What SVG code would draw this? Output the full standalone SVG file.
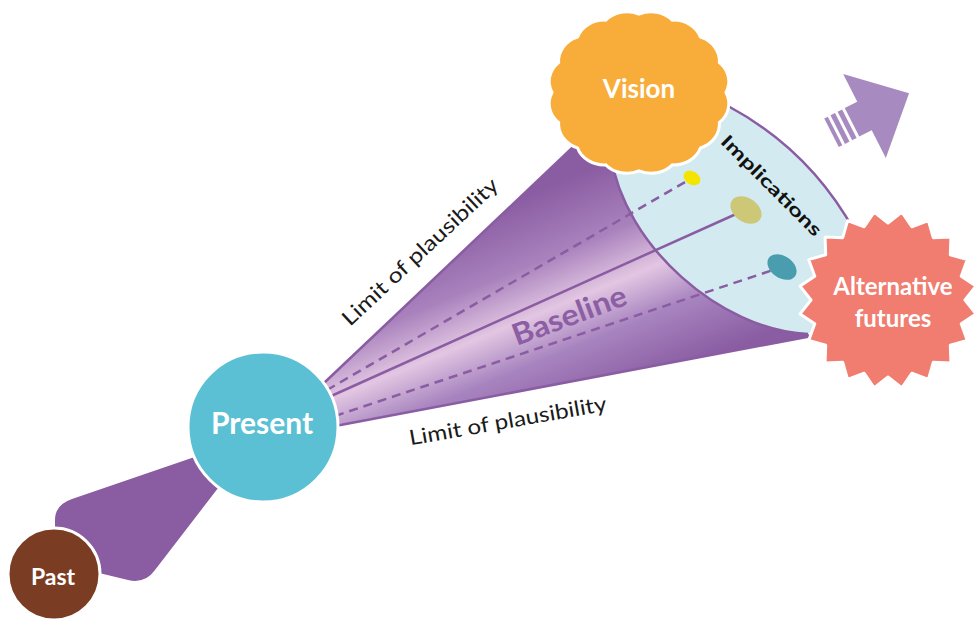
<svg xmlns="http://www.w3.org/2000/svg" width="979" height="619" viewBox="0 0 979 619">
<style>
.lbl{font-family:Lato,"Open Sans","Liberation Sans",sans-serif;font-weight:700;fill:#fff;text-anchor:middle}
.lim{font-family:Lato,"Open Sans","Liberation Sans",sans-serif;font-weight:400;fill:#1a1a1a;font-size:21px;text-anchor:middle}
.edge{fill:none;stroke:#8a5ca2;stroke-width:2.5}
.dash{fill:none;stroke:#8a5ca2;stroke-width:2.5;stroke-dasharray:9 6}
.node{stroke:#fff;stroke-width:3}
</style>
<defs>
<linearGradient id="coneGrad" gradientUnits="userSpaceOnUse" x1="458" y1="223" x2="542" y2="427">
<stop offset="0" stop-color="#8a5ca2"/>
<stop offset="0.3" stop-color="#a982bd"/>
<stop offset="0.52" stop-color="#e2c6e2"/>
<stop offset="0.72" stop-color="#a784bf"/>
<stop offset="1" stop-color="#8a5ca2"/>
</linearGradient>
</defs>

<g id="past-present-link">
<path d="M215,450 L72,499 Q55,505 55,520 L55,535 L95,572 L128,580 Q145,584 155,570 L235,466 Z" fill="#8a5ca2"/>
</g>

<g id="cone">
<path d="M305,401 L590,131 L611,156 C624,245 720,330 808,334 L812,336 L330,427 Z" fill="url(#coneGrad)"/>
<path d="M611,156 C624,245 720,330 808,334 L850,300 L855,232 Q810,150 728,106 L690,110 Z" fill="#d2eaf0"/>
</g>

<g id="connectors">
<path class="dash" d="M327,390 L692,178"/>
<path class="edge" d="M300,410 L745,210"/>
<path class="dash" d="M335,416 L782,267"/>
<path class="edge" d="M611,156 C624,245 720,330 808,334" stroke-width="2"/>
<path class="edge" d="M716,100 L728,106 Q810,150 855,232"/>
<path class="edge" d="M305,401 L590,131"/>
<path class="edge" d="M330,427 L812,336" stroke-width="3"/>
</g>

<g id="dots">
<ellipse cx="692" cy="178" rx="9" ry="6.5" transform="rotate(30 692 178)" fill="#f5e400"/>
<ellipse cx="746" cy="210" rx="17" ry="12" transform="rotate(35 746 210)" fill="#cdc878"/>
<ellipse cx="782" cy="267" rx="16" ry="11" transform="rotate(35 782 267)" fill="#4a9dae"/>
</g>

<g id="arrow" transform="translate(864.5,116) rotate(-27)" fill="#a68ac0">
<polygon points="0,-47 50,0 0,47"/>
<rect x="-14" y="-16" width="15" height="32"/>
<rect x="-22" y="-16" width="5" height="32"/>
<rect x="-30" y="-16" width="5" height="32"/>
<rect x="-37" y="-16" width="4" height="32"/>
</g>

<g id="vision">
<path class="node" vector-effect="non-scaling-stroke" transform="translate(639,92.5) scale(1,0.9)" fill="#f8ad3a" d="M87,0 A28.2,28.2 0 0 1 80.38,33.29 A28.2,28.2 0 0 1 61.52,61.52 A28.2,28.2 0 0 1 33.29,80.38 A28.2,28.2 0 0 1 0,87 A28.2,28.2 0 0 1 -33.29,80.38 A28.2,28.2 0 0 1 -61.52,61.52 A28.2,28.2 0 0 1 -80.38,33.29 A28.2,28.2 0 0 1 -87,0 A28.2,28.2 0 0 1 -80.38,-33.29 A28.2,28.2 0 0 1 -61.52,-61.52 A28.2,28.2 0 0 1 -33.29,-80.38 A28.2,28.2 0 0 1 0,-87 A28.2,28.2 0 0 1 33.29,-80.38 A28.2,28.2 0 0 1 61.52,-61.52 A28.2,28.2 0 0 1 80.38,-33.29 A28.2,28.2 0 0 1 87,0 Z"/>
<text class="lbl" x="639" y="98" font-size="26">Vision</text>
</g>

<g id="alternative-futures">
<path class="node" stroke-linejoin="round" fill="#f07d70" transform="translate(888,300)" d="M77,0 L87.9,13.92 L73.23,23.79 L79.3,40.41 L62.29,45.26 L62.93,62.93 L45.26,62.29 L40.41,79.3 L23.79,73.23 L13.92,87.9 L0,77 L-13.92,87.9 L-23.79,73.23 L-40.41,79.3 L-45.26,62.29 L-62.93,62.93 L-62.29,45.26 L-79.3,40.41 L-73.23,23.79 L-87.9,13.92 L-77,0 L-87.9,-13.92 L-73.23,-23.79 L-79.3,-40.41 L-62.29,-45.26 L-62.93,-62.93 L-45.26,-62.29 L-40.41,-79.3 L-23.79,-73.23 L-13.92,-87.9 L0,-77 L13.92,-87.9 L23.79,-73.23 L40.41,-79.3 L45.26,-62.29 L62.93,-62.93 L62.29,-45.26 L79.3,-40.41 L73.23,-23.79 L87.9,-13.92 Z"/>
<text class="lbl" x="893" y="295" font-size="24">Alternative</text>
<text class="lbl" x="893" y="327" font-size="24">futures</text>
</g>

<g id="present">
<circle class="node" cx="263" cy="427" r="75" fill="#5bc0d4"/>
<text class="lbl" x="262" y="434" font-size="30">Present</text>
</g>

<g id="past">
<circle class="node" cx="54" cy="574" r="46" fill="#7a3d23"/>
<text class="lbl" x="53" y="585" font-size="23">Past</text>
</g>

<g id="labels">
<text class="lim" x="425" y="257" transform="rotate(-43 425 257)" textLength="205" lengthAdjust="spacingAndGlyphs">Limit of plausibility</text>
<text class="lim" x="509" y="428" transform="rotate(-10 509 428)" textLength="200" lengthAdjust="spacingAndGlyphs">Limit of plausibility</text>
<text x="573" y="325" transform="rotate(-20.5 573 325)" font-family="Lato,'Open Sans','Liberation Sans',sans-serif" font-weight="700" font-size="30" fill="#8c5ea4" text-anchor="middle" textLength="120" lengthAdjust="spacingAndGlyphs">Baseline</text>
<text x="767" y="190" transform="rotate(45 767 190)" font-family="Lato,'Open Sans','Liberation Sans',sans-serif" font-weight="700" font-size="18" fill="#111" text-anchor="middle" textLength="134" lengthAdjust="spacingAndGlyphs">Implications</text>
</g>
</svg>
